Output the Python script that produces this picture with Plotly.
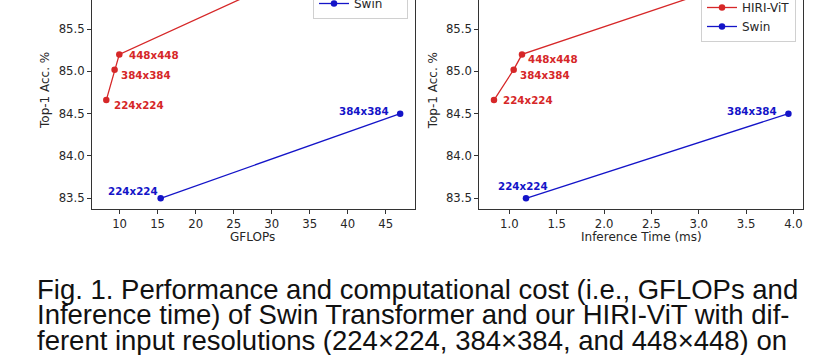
import plotly.graph_objects as go

# ---- data ----
res_labels = ["224x224", "384x384", "448x448"]
hiri_gflops = [8.25, 9.34, 9.96, 30.2]
hiri_time = [0.838, 1.046, 1.134, 3.34]
hiri_acc = [84.66, 85.02, 85.20, 86.03]
swin_gflops = [15.4, 46.9]
swin_time = [1.176, 3.947]
swin_acc = [83.5, 84.5]
swin_labels = ["224x224", "384x384"]

x1_ticks = [10, 15, 20, 25, 30, 35, 40, 45]
x2_ticks = [1.0, 1.5, 2.0, 2.5, 3.0, 3.5, 4.0]
y_ticks = [83.5, 84.0, 84.5, 85.0, 85.5]

caption_lines = [
    "Fig. 1. Performance and computational cost (i.e., GFLOPs and",
    "Inference time) of Swin Transformer and our HIRI-ViT with dif-",
    "ferent input resolutions (224\u00d7224, 384\u00d7384, and 448\u00d7448) on",
]

RED = "#d62728"
BLUE = "#1414c8"
W, H = 836, 355

fig = go.Figure()

def add_series(x, y, name, color, xa, ya, legend, show):
    fig.add_trace(go.Scatter(
        x=x, y=y, mode="lines+markers", name=name,
        line=dict(color=color, width=1.3),
        marker=dict(color=color, size=6.5),
        xaxis=xa, yaxis=ya, legend=legend, showlegend=show,
    ))

add_series(hiri_gflops, hiri_acc, "HIRI-ViT", RED, "x", "y", "legend", True)
add_series(swin_gflops, swin_acc, "Swin", BLUE, "x", "y", "legend", True)
add_series(hiri_time, hiri_acc, "HIRI-ViT", RED, "x2", "y2", "legend2", True)
add_series(swin_time, swin_acc, "Swin", BLUE, "x2", "y2", "legend2", True)

tickfont = dict(family="DejaVu Sans", size=11.7, color="#262626")
axis_common = dict(
    showgrid=False, zeroline=False, showline=True, linecolor="#333333",
    linewidth=1, ticks="outside", ticklen=4, tickcolor="#333333",
    tickfont=tickfont,
)
ydom = [1 - 209 / H, 1.0]
fig.update_layout(
    xaxis=dict(domain=[92 / W, 415 / W], range=[6.37, 48.85],
               tickvals=x1_ticks, anchor="y", **axis_common),
    yaxis=dict(domain=ydom, range=[83.3736, 85.8426], tickvals=y_ticks,
               tickformat=".1f", anchor="x", mirror=True, **axis_common),
    xaxis2=dict(domain=[479.3 / W, 803.3 / W], range=[0.683, 4.104],
                tickvals=x2_ticks, tickformat=".1f", anchor="y2", **axis_common),
    yaxis2=dict(domain=ydom, range=[83.3736, 85.8426], tickvals=y_ticks,
                tickformat=".1f", anchor="x2", mirror=True, **axis_common),
)

legend_common = dict(
    bgcolor="rgba(255,255,255,0.8)", bordercolor="#d0d0d0", borderwidth=1,
    font=dict(family="DejaVu Sans", size=12, color="#262626"),
    xanchor="right", yanchor="bottom",
)
fig.update_layout(
    legend=dict(x=408 / W, y=1 - 19 / H, **legend_common),
    legend2=dict(x=796 / W, y=1 - 42 / H, **legend_common),
)

anns = []
lab_font_r = dict(family="DejaVu Sans", size=10.3, color=RED, weight="bold")
lab_font_b = dict(family="DejaVu Sans", size=10.3, color=BLUE, weight="bold")

red_left_off = [("left", 6, -5), ("left", 4, -5), ("left", 8, -1)]
red_right_off = [("left", 7, 0), ("left", 4, -5), ("left", 4, -5)]
for i, lab in enumerate(res_labels):
    a, dx, dy = red_left_off[i]
    anns.append(dict(x=hiri_gflops[i], y=hiri_acc[i], xref="x", yref="y",
                     text=lab, showarrow=False, xanchor=a, yanchor="middle",
                     xshift=dx, yshift=dy, font=lab_font_r))
    a, dx, dy = red_right_off[i]
    anns.append(dict(x=hiri_time[i], y=hiri_acc[i], xref="x2", yref="y2",
                     text=lab, showarrow=False, xanchor=a, yanchor="middle",
                     xshift=dx, yshift=dy, font=lab_font_r))
blue_left_off = [("right", -1, 7), ("right", -9, 3)]
blue_right_off = [("center", -3, 12), ("right", -9, 3)]
for i, lab in enumerate(swin_labels):
    a, dx, dy = blue_left_off[i]
    anns.append(dict(x=swin_gflops[i], y=swin_acc[i], xref="x", yref="y",
                     text=lab, showarrow=False, xanchor=a, yanchor="middle",
                     xshift=dx, yshift=dy, font=lab_font_b))
    a, dx, dy = blue_right_off[i]
    anns.append(dict(x=swin_time[i], y=swin_acc[i], xref="x2", yref="y2",
                     text=lab, showarrow=False, xanchor=a, yanchor="middle",
                     xshift=dx, yshift=dy, font=lab_font_b))

# axis titles
tfont = dict(family="DejaVu Sans", size=12, color="#262626")
anns.append(dict(x=252 / W, y=1 - 237 / H, xref="paper", yref="paper", text="GFLOPs",
                 showarrow=False, font=tfont, xanchor="center", yanchor="middle"))
anns.append(dict(x=641 / W, y=1 - 237 / H, xref="paper", yref="paper",
                 text="Inference Time (ms)", showarrow=False, font=tfont,
                 xanchor="center", yanchor="middle"))
for xc in (45, 433.3):
    anns.append(dict(x=xc / W, y=1 - 91 / H, xref="paper", yref="paper",
                     text="Top-1 Acc. %", textangle=-90, showarrow=False,
                     font=tfont, xanchor="center", yanchor="middle"))

# caption
cfont = dict(family="Liberation Sans", size=27.5, color="#111111")
for i, line in enumerate(caption_lines):
    anns.append(dict(x=35 / W, y=1 - (289 + 25.5 * i) / H, xref="paper", yref="paper",
                     text=line, showarrow=False, font=cfont,
                     xanchor="left", yanchor="middle"))

fig.update_layout(
    annotations=anns,
    width=W, height=H,
    margin=dict(l=0, r=0, t=0, b=0, autoexpand=False),
    paper_bgcolor="white", plot_bgcolor="white",
)

fig.write_html("out.html", config={"displayModeBar": False},
               post_script="document.body.style.margin='0px';")
